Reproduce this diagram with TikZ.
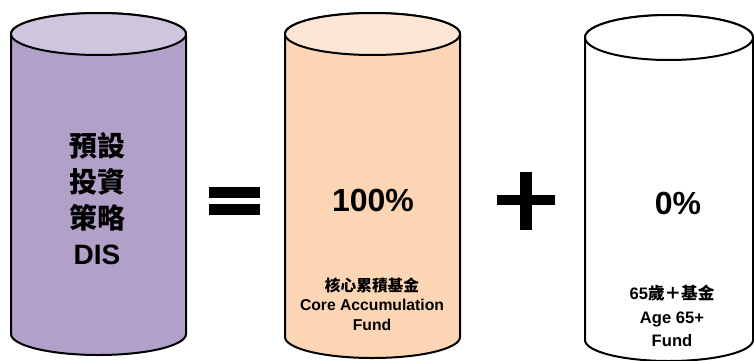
\documentclass[tikz,border=0pt]{standalone}
\usepackage{fontspec}
\setmainfont{Liberation Sans}
\newfontfamily\cjk{Noto Sans CJK TC}
\definecolor{dispurple}{HTML}{B1A0C7}
\definecolor{dispurpletop}{HTML}{CFC5DE}
\definecolor{corepeach}{HTML}{FCD5B5}
\definecolor{corepeachtop}{HTML}{FDE6D5}
\tikzset{
  tank/.style={draw=black, line width=2pt},
  bigtxt/.style={font=\bfseries\fontsize{28}{36}\selectfont, align=center},
  pcttxt/.style={font=\bfseries\fontsize{32}{36}\selectfont},
  fundtxt/.style={font=\bfseries\fontsize{15.7}{19.5}\selectfont, align=center},
  agetxt/.style={font=\bfseries\fontsize{16.6}{23.5}\selectfont, align=center}
}
\begin{document}
\begin{tikzpicture}[x=1pt, y=1pt]
        \useasboundingbox (0,0) rectangle (754,360);
        % default investment strategy tank
        \draw[tank, fill=dispurple] (11,326) -- (11,26) arc[start angle=180, end angle=360, x radius=87.5, y radius=21]
        -- (186,326) arc[start angle=0, end angle=180, x radius=87.5, y radius=21] -- cycle;
        \draw[tank, fill=dispurpletop] (98.5,326) ellipse[x radius=87.5, y radius=21];
        \node[bigtxt] (dis) at (97,161) {{\cjk 預設}\\{\cjk 投資}\\{\cjk 策略}\\DIS};
        % equal sign
        \fill (209,162) rectangle (260,173);
        \fill (209,145) rectangle (260,156);
        % core accumulation fund tank
        \draw[tank, fill=corepeach] (285,326) -- (285,23) arc[start angle=180, end angle=360, x radius=87.5, y radius=21]
        -- (460,326) arc[start angle=0, end angle=180, x radius=87.5, y radius=21] -- cycle;
        \draw[tank, fill=corepeachtop] (372.5,326) ellipse[x radius=87.5, y radius=21];
        \node[pcttxt] (corepct) at (373,160) {100\%};
        \node[fundtxt] (corename) at (372,56) {{\cjk 核心累積基金}\\Core Accumulation\\Fund};
        % plus sign
        \fill (497,155) rectangle (555,165);
        \fill (520,130) rectangle (532,188);
        % age 65 plus fund tank
        \draw[tank, fill=white] (585,322.5) -- (585,20) arc[start angle=180, end angle=360, x radius=84, y radius=21]
        -- (753,322.5) arc[start angle=0, end angle=180, x radius=84, y radius=22.5] -- cycle;
        \draw[tank, fill=white] (669,322.5) ellipse[x radius=84, y radius=22.5];
        \node[pcttxt] (agepct) at (678,157) {0\%};
        \node[agetxt] (agename) at (672,44) {65{\cjk 歲＋基金}\\Age 65+\\Fund};
\end{tikzpicture}
\end{document}
